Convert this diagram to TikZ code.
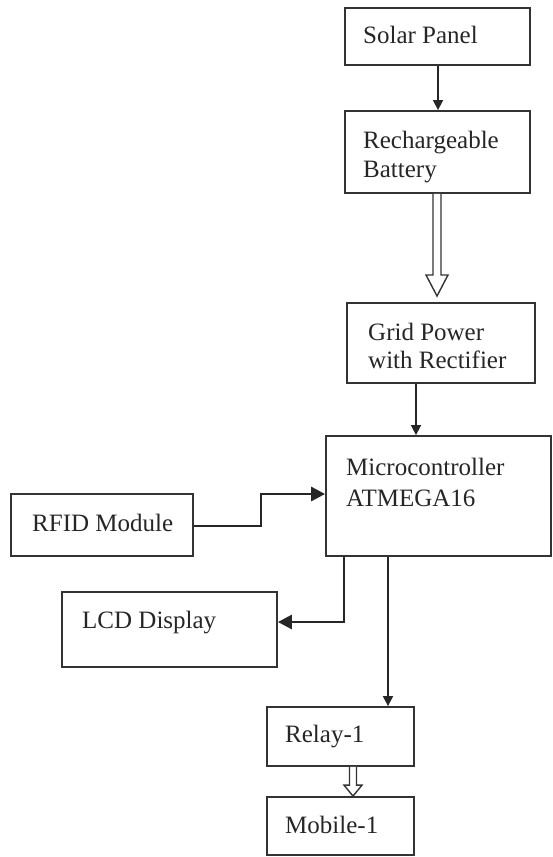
\documentclass[tikz,border=0pt]{standalone}
\usepackage{fontspec}
\setmainfont{Liberation Serif}
\usetikzlibrary{arrows.meta,calc}
\begin{document}
\begin{tikzpicture}[x=1pt,y=-1pt,
  box/.style={draw=black!80,line width=1.8pt,inner sep=0pt},
  txt/.style={anchor=base west,inner sep=0pt,text=black!85,font=\fontsize{25}{29}\selectfont},
  conn/.style={draw=black!85,line width=1.6pt,-{Triangle[length=10pt,width=10pt]}},
  thick conn/.style={draw=black!85,line width=2.8pt,-{Triangle[length=14pt,width=14pt]}},
  hollow/.style={draw=black!80,line width=1.4pt,fill=white,line join=miter}]
\useasboundingbox (0,0) rectangle (553,857);
% boxes
\node[box,minimum width=185pt,minimum height=57pt] (solar) at (437.5,36.5) {};
\node[box,minimum width=185pt,minimum height=82pt] (battery) at (437.5,152) {};
\node[box,minimum width=188pt,minimum height=80pt] (grid) at (441,343) {};
\node[box,minimum width=225pt,minimum height=120pt] (micro) at (438.5,496) {};
\node[box,minimum width=182pt,minimum height=62pt] (rfid) at (102,525) {};
\node[box,minimum width=215pt,minimum height=75pt] (lcd) at (169.5,629.5) {};
\node[box,minimum width=147pt,minimum height=59pt] (relay) at (340.5,736.5) {};
\node[box,minimum width=147pt,minimum height=58pt] (mobile) at (340.5,826) {};
% texts
\node[txt] (tsolar) at (363,43) {Solar Panel};
\node[txt] (tbat1) at (363,148) {Rechargeable};
\node[txt] (tbat2) at (363,177) {Battery};
\node[txt] (tgrid1) at (368,340) {Grid Power};
\node[txt] (tgrid2) at (368,368) {with Rectifier};
\node[txt] (tmicro1) at (346,475) {Microcontroller};
\node[txt] (tmicro2) at (346,506) {ATMEGA16};
\node[txt] (trfid) at (32,531) {RFID Module};
\node[txt] (tlcd) at (82,628) {LCD Display};
\node[txt] (trelay) at (285,742) {Relay-1};
\node[txt] (tmobile) at (285,833) {Mobile-1};
% connectors
\draw[conn] (solar.south -| 438,0) -- (battery.north -| 438,0);
\draw[conn] (grid.south -| 416,0) -- (micro.north -| 416,0);
\draw[thick conn] (rfid.east |- 0,526) -- (261,526) -- (261,494) -- (micro.west |- 0,494);
\draw[thick conn] (micro.south -| 344,0) -- (344,622) -- (lcd.east |- 0,622);
\draw[conn] (micro.south -| 388,0) -- (relay.north -| 388,0);
% hollow arrows
\coordinate (h1a) at (battery.south -| 437,0);
\coordinate (h1b) at (437,296);
\draw[hollow] ($(h1a)+(-4,0)$) -- ($(h1b)+(-4,-21)$) -- ($(h1b)+(-11,-21)$) -- (h1b) -- ($(h1b)+(11,-21)$) -- ($(h1b)+(4,-21)$) -- ($(h1a)+(4,0)$);
\coordinate (h2a) at (relay.south -| 353,0);
\coordinate (h2b) at (mobile.north -| 353,0);
\draw[hollow] ($(h2a)+(-3.5,0)$) -- ($(h2b)+(-3.5,-11)$) -- ($(h2b)+(-9,-11)$) -- (h2b) -- ($(h2b)+(9,-11)$) -- ($(h2b)+(3.5,-11)$) -- ($(h2a)+(3.5,0)$);
\end{tikzpicture}
\end{document}
